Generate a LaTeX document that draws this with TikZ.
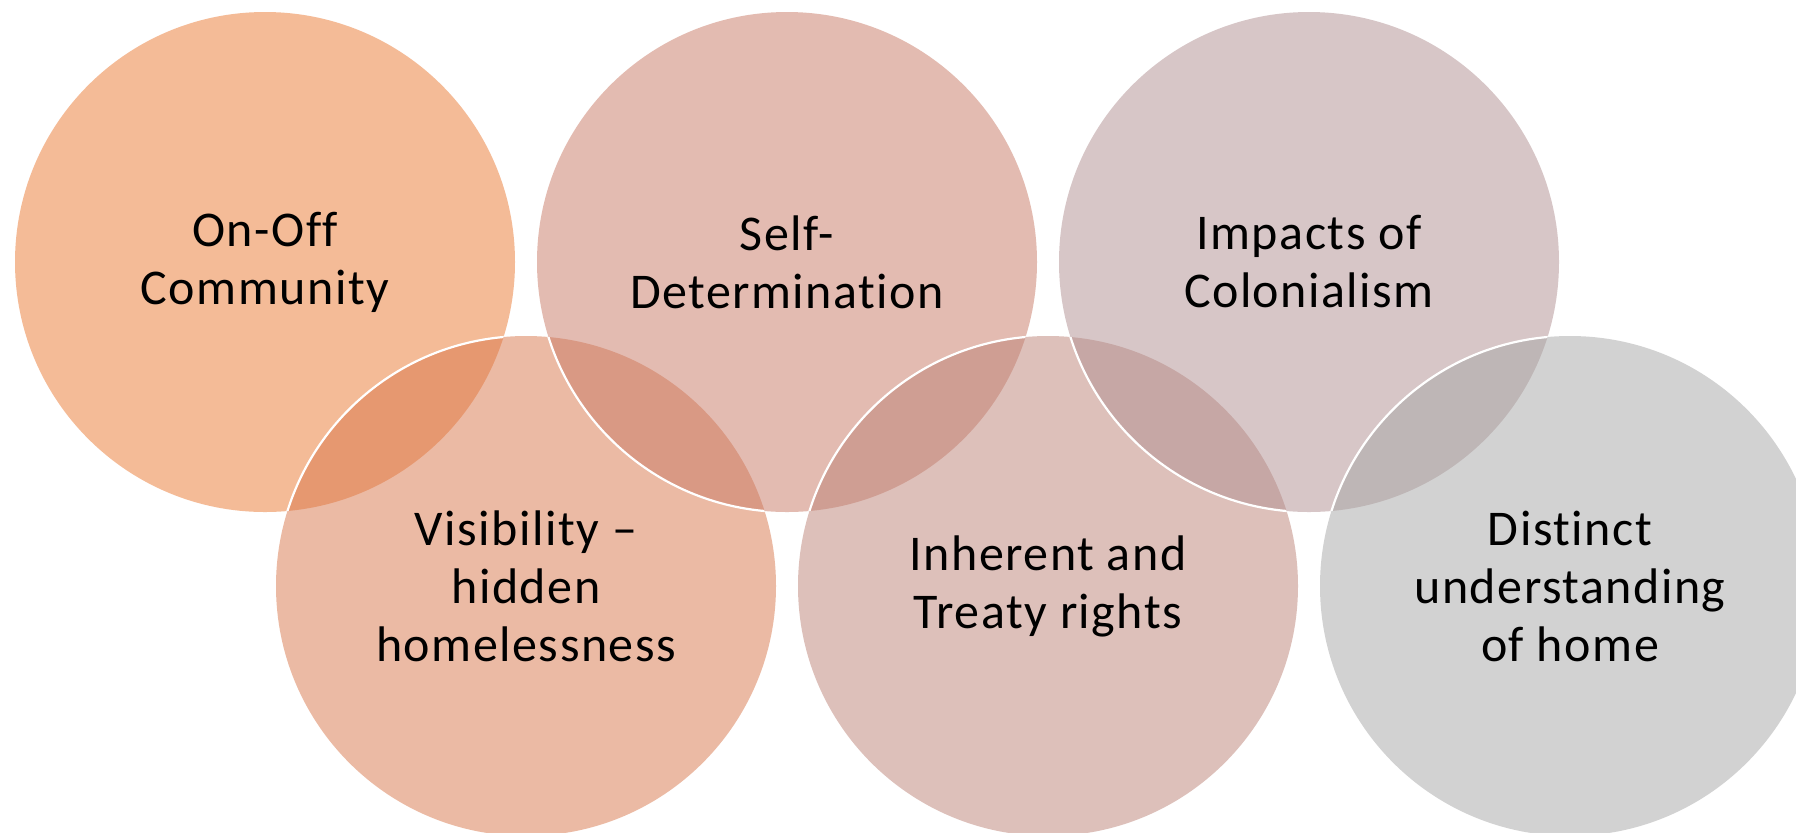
\documentclass[tikz,border=0pt]{standalone}
\usepackage{fontspec}
\setmainfont{Carlito}[LetterSpace=3,Ligatures={NoCommon}]
\definecolor{c1}{RGB}{235,121,49}
\definecolor{c2}{RGB}{217,119,75}
\definecolor{c3}{RGB}{201,121,101}
\definecolor{c4}{RGB}{189,131,119}
\definecolor{c5}{RGB}{177,143,145}
\definecolor{c6}{RGB}{167,167,167}
\begin{document}
\begin{tikzpicture}[x=0.5pt,y=-0.5pt,
  bub/.style={circle, minimum size=250pt, inner sep=0pt, outer sep=0pt, fill opacity=0.5},
  lbl/.style={align=center, font=\fontsize{25}{29}\selectfont, text=black, inner sep=0pt},
  rim/.style={draw=white, line width=1.1pt}]
\useasboundingbox[fill=white] (0,0) rectangle (1796,832);
\node[bub, fill=c1] (c1) at (265,262) {};
\node[bub, fill=c2] (c2) at (526,586) {};
\node[bub, fill=c3] (c3) at (787,262) {};
\node[bub, fill=c4] (c4) at (1048,586) {};
\node[bub, fill=c5] (c5) at (1309,262) {};
\node[bub, fill=c6] (c6) at (1570,586) {};
\foreach \a/\b in {c1/c2,c2/c3,c3/c4,c4/c5,c5/c6}{
  \begin{scope}
    \clip (\a.center) circle[radius=125pt];
    \draw[rim] (\b.center) circle[radius=125pt];
  \end{scope}
}
\node[lbl] (t1) at (c1.center) {On-Off\\Community};
\node[lbl] (t2) at (c2.center) {Visibility –\\hidden\\homelessness};
\node[lbl] (t3) at (c3.center) {Self-\\Determination};
\node[lbl] (t4) at (c4.center) {Inherent and\\Treaty rights};
\node[lbl] (t5) at (c5.center) {Impacts of\\Colonialism};
\node[lbl] (t6) at (c6.center) {Distinct\\understanding\\of home};
\end{tikzpicture}
\end{document}
